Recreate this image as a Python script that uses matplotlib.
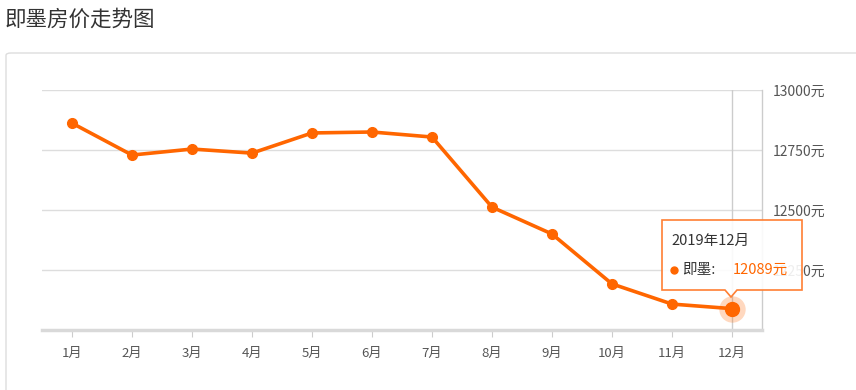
import numpy as np
import matplotlib
matplotlib.use("Agg")
import matplotlib.pyplot as plt
from matplotlib.patches import FancyBboxPatch, Polygon
from matplotlib.lines import Line2D

plt.rcParams['font.family'] = ['Noto Sans CJK SC', 'DejaVu Sans']

# ---- data ----
months = ['1月', '2月', '3月', '4月', '5月', '6月', '7月', '8月', '9月', '10月', '11月', '12月']
prices = [12862, 12729, 12754, 12737, 12821, 12825, 12804, 12512, 12400, 12192, 12108, 12089]
yticks = [12000, 12250, 12500, 12750, 13000]
title = '即墨房价走势图'
tip_date = '2019年12月'
tip_name = '即墨:'

W, H = 856, 390
orange = '#ff6600'

def fx(x):
    return x / W

def fy(y):
    return 1 - y / H

fig = plt.figure(figsize=(W / 100, H / 100), dpi=100)

# panel frame
frame = FancyBboxPatch((fx(6), fy(420)), fx(880), 367 / H,
                       boxstyle='round,pad=0,rounding_size=0.006',
                       transform=fig.transFigure, fc='white', ec='#dddddd', lw=1, zorder=-5)
fig.patches.append(frame)
fig.text(fx(5), fy(20), title, fontsize=15.5, color='#333333', va='center', ha='left')

ax = fig.add_axes([fx(42), fy(330), fx(720), 240 / H])
ax.set_facecolor('none')
x = np.arange(len(months))
ax.plot(x, prices, color=orange, lw=2.6, marker='o', ms=7, zorder=4, clip_on=False)
ax.set_xlim(-0.5, len(months) - 0.5)
ax.set_ylim(12000, 13000)

# crosshair and highlighted point
ax.axvline(x[-1], color='#cccccc', lw=1, zorder=2)
ax.plot(x[-1], prices[-1], 'o', ms=19, color=orange, alpha=0.25, zorder=5, clip_on=False, mec='none')
ax.plot(x[-1], prices[-1], 'o', ms=10, color=orange, zorder=6, clip_on=False)

# the bottom tick (12000) carries no label in the original
ax.set_yticks(yticks)
ax.set_yticklabels([''] + [f'{v}元' for v in yticks[1:]])
ax.yaxis.tick_right()
ax.tick_params(axis='y', length=0, pad=8, labelsize=10, labelcolor='#555555')
ax.set_xticks(x)
ax.set_xticklabels(months)
ax.tick_params(axis='x', length=5, color='#cccccc', pad=7, labelsize=9.5, labelcolor='#555555')
ax.grid(axis='y', color='#dddddd', lw=1)
ax.set_axisbelow(True)
for s in ['top', 'left']:
    ax.spines[s].set_visible(False)
ax.spines['bottom'].set_color('#d9d9d9')
ax.spines['bottom'].set_linewidth(2.5)
ax.spines['right'].set_color('#cccccc')
ax.spines['right'].set_linewidth(1)

# tooltip
pts = [(662, 220), (802, 220), (802, 290), (737, 290), (731, 297), (725, 290), (662, 290)]
tip = Polygon([(fx(a), fy(b)) for a, b in pts], closed=True, transform=fig.transFigure,
              fc='white', alpha=0.9, ec='none', zorder=10)
fig.patches.append(tip)
tip_edge = Polygon([(fx(a), fy(b)) for a, b in pts], closed=True, transform=fig.transFigure,
                   fill=False, ec='#ff7f33', lw=1.2, zorder=11)
fig.patches.append(tip_edge)
fig.add_artist(Line2D([fx(674)], [fy(270)], marker='o', ms=5, color=orange,
                      transform=fig.transFigure, zorder=12))
fig.text(fx(671), fy(241), tip_date, fontsize=10.5, color='#333333', va='center', ha='left', zorder=12)
fig.text(fx(682), fy(270), tip_name, fontsize=10.5, color='#333333', va='center', ha='left', zorder=12)
fig.text(fx(733), fy(270), f'{prices[-1]}元', fontsize=10.5, color=orange, va='center', ha='left', zorder=12)

fig.savefig('out.png', dpi=100)
